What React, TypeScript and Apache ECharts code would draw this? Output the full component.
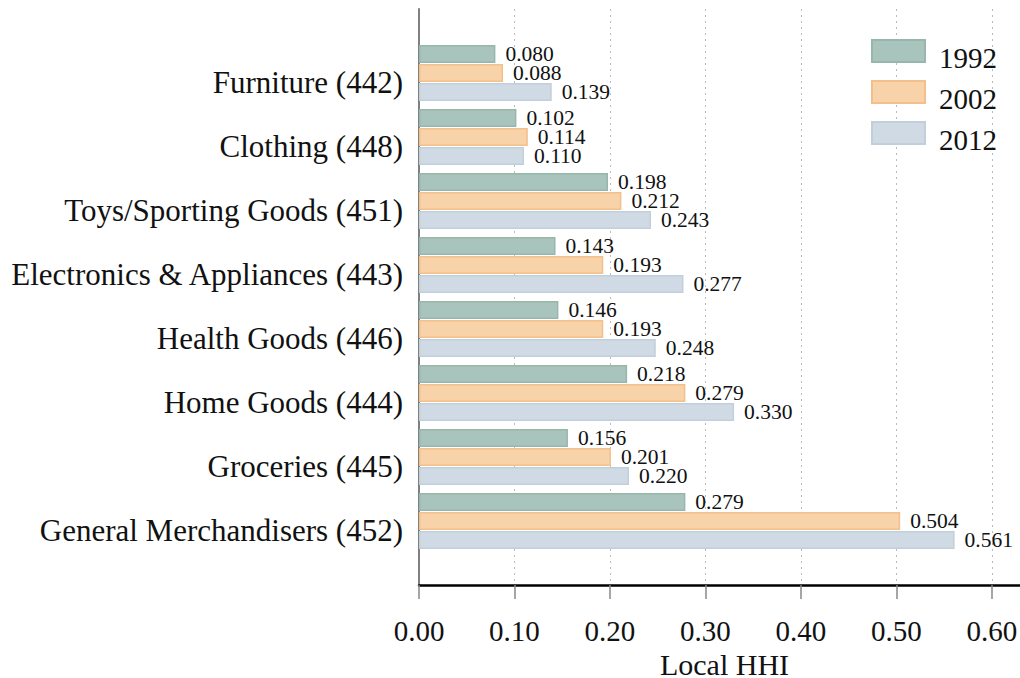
import React, { useEffect, useRef } from "react";
import * as echarts from "echarts";

const categories = [
  "Furniture (442)",
  "Clothing (448)",
  "Toys/Sporting Goods (451)",
  "Electronics & Appliances (443)",
  "Health Goods (446)",
  "Home Goods (444)",
  "Groceries (445)",
  "General Merchandisers (452)",
];
const years = ["1992", "2002", "2012"];
const values1992 = [0.08, 0.102, 0.198, 0.143, 0.146, 0.218, 0.156, 0.279];
const values2002 = [0.088, 0.114, 0.212, 0.193, 0.193, 0.279, 0.201, 0.504];
const values2012 = [0.139, 0.11, 0.243, 0.277, 0.248, 0.33, 0.22, 0.561];
const xTicks = [0, 0.1, 0.2, 0.3, 0.4, 0.5, 0.6];

const FONT = "'Liberation Serif', 'Times New Roman', serif";
const fills = ["#a9c4bd", "#f8d2a8", "#d0dae4"];
const edges = ["#97b6ac", "#f3c08c", "#c1cfdb"];

export default function App() {
  const ref = useRef<HTMLDivElement>(null);
  useEffect(() => {
    if (!ref.current) return;
    const chart = echarts.init(ref.current, null, { renderer: "svg" });
    const cats = ["", ...categories, ""];
    const all = [values1992, values2002, values2012];
    const series = years.map((y, i) => ({
      name: y,
      type: "bar",
      barWidth: 18,
      barGap: "6%",
      data: [null, ...all[i], null],
      itemStyle: { color: fills[i], borderColor: edges[i], borderWidth: 1.5 },
      label: {
        show: true,
        position: "right",
        distance: 10,
        fontFamily: FONT,
        fontSize: 21.5,
        color: "#111",
        formatter: (p: any) => Number(p.value).toFixed(3),
      },
    }));
    chart.setOption({
      animation: false,
      backgroundColor: "#ffffff",
      grid: {
        left: 419,
        top: 9,
        width: 611,
        height: 576,
        containLabel: false,
        outerBoundsMode: "none",
      },
      legend: {
        orient: "vertical",
        right: 23,
        top: 39,
        padding: 0,
        itemWidth: 53,
        itemHeight: 35,
        itemGap: 4,
        icon: "path://M0,0H53V22H0Z M0,35",
        data: years,
        textStyle: {
          fontFamily: FONT,
          fontSize: 29,
          color: "#111",
          padding: [0, 0, 0, 9],
        },
      },
      xAxis: {
        type: "value",
        min: 0,
        max: 0.64,
        interval: 0.1,
        name: "Local HHI",
        nameLocation: "middle",
        nameGap: 60,
        nameTextStyle: { fontFamily: FONT, fontSize: 30, color: "#111" },
        axisLine: { show: true, lineStyle: { color: "#000", width: 2.5 } },
        axisTick: { show: true, length: 14, lineStyle: { color: "#888", width: 1.5 } },
        axisLabel: {
          fontFamily: FONT,
          fontSize: 29,
          color: "#111",
          margin: 31,
          formatter: (v: number) => (xTicks.some((t) => Math.abs(t - v) < 1e-9) ? v.toFixed(2) : ""),
        },
        splitLine: { show: true, lineStyle: { color: "#bbbbbb", width: 1, type: [2, 4] } },
      },
      yAxis: {
        type: "category",
        data: cats,
        inverse: true,
        boundaryGap: false,
        axisLine: { show: true, lineStyle: { color: "#808080", width: 2 } },
        axisTick: { show: false },
        splitLine: { show: false },
        axisLabel: {
          interval: 0,
          fontFamily: FONT,
          fontSize: 31,
          color: "#111",
          margin: 16,
          verticalAlign: "top",
          lineHeight: 18,
        },
      },
      series,
    });
    return () => chart.dispose();
  }, []);
  return <div ref={ref} style={{ width: 1020, height: 678, position: "absolute", left: 0, top: 0 }} />;
}
